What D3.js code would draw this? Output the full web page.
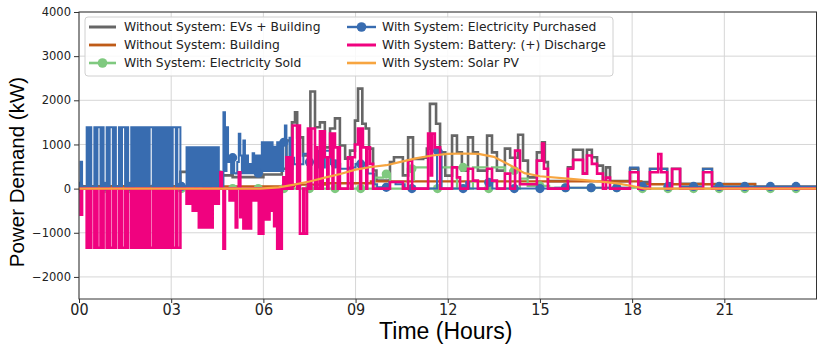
<!DOCTYPE html>
<html>
<head>
<meta charset="utf-8">
<script src="https://cdnjs.cloudflare.com/ajax/libs/d3/7.8.5/d3.min.js"></script>
<style>
    body { margin: 0; background: #fff; }
    svg { display: block; font-family: "DejaVu Sans", sans-serif; }
    .grid line { stroke: #d6d6d6; stroke-width: 1; }
    .axis path { display: none; }
    .axis line { stroke: #333; }
    .axis text { fill: #222; }
</style>
</head>
<body>
<script>
// tick labels
var xTicks = [0, 3, 6, 9, 12, 15, 18, 21];
var yTicks = [-2000, -1000, 0, 1000, 2000, 3000, 4000];

// [hour, kW] step data
var evBuilding = [[0,50],[3.3,380],[3.78,40],[3.85,380],[4.6,300],[5.0,260],[6.0,320],[6.6,450],[6.75,1090],[6.93,1500],[7.03,1730],[7.1,1160],[7.29,750],
    [7.53,2200],[7.68,1390],[7.84,1500],[8.0,935],[8.17,1360],[8.33,1590],[8.49,975],[8.66,680],[8.82,860],[8.98,1540],[9.08,2265],
    [9.22,1470],[9.33,1360],[9.44,905],[9.57,410],[9.68,180],[10.12,600],[10.25,710],[10.54,300],[10.71,1160],[10.87,670],[11.2,700],
    [11.32,905],[11.42,1920],[11.62,1470],[11.75,820],[11.92,295],[12.14,1200],[12.3,820],[12.46,408],[12.66,1160],[12.82,820],
    [12.98,408],[13.28,1200],[13.44,820],[13.6,408],[13.86,905],[14.03,700],[14.29,1220],[14.45,634],[14.61,255],[14.9,820],
    [15.07,1050],[15.16,600],[15.26,170],[15.91,480],[16.08,880],[16.4,340],[16.53,880],[16.69,710],[16.86,520],[17.05,170],
    [17.15,480],[17.28,170],[17.93,450],[18.2,150],[18.58,450],[19.14,120],[19.3,450],[19.56,110],[20.31,450],[20.6,105],[22.0,40],[24,40]];

var building = [[0,50],[6,50],[7,90],[8,120],[9.5,165],[18.3,100],[22,40],[24,40]];

var sold = [[0,0],[9.62,250],[9.9,330],[10.12,0],[10.7,450],[10.84,200],[10.9,480],[11.36,0],[11.75,480],[12.14,0],[12.3,480],[12.66,0],
    [12.82,480],[13.28,0],[13.44,480],[13.86,0],[14.03,410],[14.19,0],[14.35,225],[14.6,60],[15.3,20],[18.2,0],[24,0]];

// fast switching between 00:15 and 07:00, one value every 3 minutes
var fastStart = 0.25, fastStep = 0.05;
var fastPurchased = [
    1390,50,1390,50,50,1390,50,1390,1390,50,
    1390,50,50,1390,50,1390,1390,50,1390,50,
    50,1390,50,1390,1390,50,1390,50,50,1390,
    50,1390,50,1390,50,1390,50,1390,50,1390,
    50,1390,1390,50,1390,50,1390,50,1390,50,
    1390,50,1390,50,1390,50,1390,1390,50,1390,
    1390,50,50,50,50,
    935,50,935,50,935,50,935,50,935,50,935,50,935,50,935,50,935,50,935,50,935,50,
    50,50,1730,400,1390,600,700,350,700,350,
    340,600,1240,750,350,1090,350,750,350,560,
    350,800,350,750,350,750,350,1050,400,1050,
    400,1050,400,1050,400,950,400,1050,400,1050,
    400,1050,1430,600,450,1150,450,700];
var fastDischarge = [
    -1340,0,-1340,0,0,-1340,0,-1340,-1340,0,
    -1340,0,0,-1340,0,-1340,-1340,0,-1340,0,
    0,-1340,0,-1340,-1340,0,-1340,0,0,-1340,
    0,-1340,0,-1340,0,-1340,0,-1340,0,-1340,
    0,-1340,-1340,0,-1340,0,-1340,0,-1340,0,
    -1340,0,-1340,0,-1340,0,-1340,-1340,0,-1340,
    -1340,0,0,0,0,
    -340,0,-340,0,-500,0,-500,0,-877,0,-877,0,-877,0,-877,0,-877,0,-340,0,-340,0,
    370,0,-1360,0,0,0,-270,0,-270,0,
    -877,0,370,-650,0,-900,0,-900,0,-900,
    0,-270,0,-270,0,-1020,0,-1020,0,-700,
    0,-700,0,-500,0,-850,0,-1360,0,-1360,
    0,255,0,710,0,710,0,1430];

var purchased = [[0,50],[0.05,610],[0.1,50],
    [7.0,550],[7.3,790],[7.5,600],[7.7,850],[7.8,480],[8.0,860],[8.2,560],[8.5,450],[8.8,480],[9.0,560],[9.25,480],[9.4,340],[9.6,100],[9.7,30],
    [10.1,150],[10.3,100],[10.6,0],[11.65,860],[11.8,0],[12.6,150],[12.7,0],[13.3,140],[13.45,0],[15.5,20],[17.93,480],[18.2,50],
    [18.58,445],[19.14,50],[19.3,445],[19.56,50],[20.31,445],[20.6,50],[24,50]];

var discharge = [[0,0],[0.05,-590],[0.1,0],
    [7.0,1430],[7.1,0],[7.15,1430],[7.19,-1020],[7.3,0],[7.33,-1020],[7.42,0],[7.45,1360],[7.52,0],[7.56,1360],[7.68,0],[7.7,935],
    [7.75,0],[7.84,1300],[7.9,0],[7.93,1300],[8.0,710],[8.08,0],[8.12,710],[8.17,1245],[8.25,0],[8.28,1245],[8.33,935],[8.42,0],
    [8.45,935],[8.49,0],[8.75,710],[8.85,0],[8.9,710],[8.98,1000],[9.08,1360],[9.15,0],[9.18,1360],[9.24,935],[9.35,0],[9.38,935],
    [9.47,560],[9.57,0],
    [10.12,150],[10.54,0],[10.71,634],[10.84,0],[11.36,1245],[11.45,300],[11.49,1245],[11.58,935],[11.75,0],[12.14,480],[12.3,255],[12.4,0],[12.66,450],
    [12.82,180],[12.98,0],[13.28,450],[13.44,180],[13.6,0],[13.86,340],[14.03,0],[14.19,860],[14.35,100],[14.9,634],[15.07,1020],
    [15.13,450],[15.26,0],[15.91,450],[16.08,650],[16.4,340],[16.53,750],[16.69,560],[16.86,340],[17.05,0],[17.15,250],[17.28,0],
    [17.93,370],[18.2,0],[18.58,370],[18.85,785],[18.95,370],[19.14,0],[19.3,445],[19.56,0],[20.31,370],[20.6,0],[24,0]];

var solar = [[0,0],[5.9,0],[6.5,30],[7,90],[7.5,160],[8,250],[8.5,330],[9,430],[9.5,490],[10,530],[10.5,610],[11,690],[11.5,750],
    [12,785],[12.5,795],[13,785],[13.5,720],[14,540],[14.5,350],[15,280],[16,220],[17,160],[17.5,120],[18,60],[18.4,0],[24,0]];

function withFast(points, values) {
    var out = points.slice();
    values.forEach(function (v, i) { out.push([fastStart + i * fastStep, v]); });
    return out.sort(function (a, b) { return a[0] - b[0]; });
}

var series = [
    { name: "Without System: EVs + Building", data: evBuilding, color: "#666666", width: 2.6, step: true },
    { name: "Without System: Building", data: building, color: "#bf5b17", width: 2.4, step: true },
    { name: "With System: Electricity Sold", data: sold, color: "#7fc97f", width: 2.2, step: true, marker: true },
    { name: "With System: Electricity Purchased", data: withFast(purchased, fastPurchased), color: "#386cb0", width: 2, step: true, marker: true },
    { name: "With System: Battery: (+) Discharge", data: withFast(discharge, fastDischarge), color: "#f0027f", width: 2.6, step: true },
    { name: "With System: Solar PV", data: solar, color: "#f7a540", width: 2.2, step: false }
];

var W = 825, H = 348;
var plotL = 79, plotR = 816.5, plotT = 12, plotB = 299;

var x = d3.scaleLinear().domain([0, 24]).range([plotL, plotR]);
var y = d3.scaleLinear().domain([-2500, 4000]).range([plotB, plotT]);

var svg = d3.select("body").append("svg").attr("width", W).attr("height", H);

svg.append("clipPath").attr("id", "plot")
    .append("rect").attr("x", plotL).attr("y", plotT).attr("width", plotR - plotL).attr("height", plotB - plotT);

var grid = svg.append("g").attr("class", "grid");
grid.selectAll(".gx").data(xTicks).enter().append("line")
    .attr("x1", d => x(d)).attr("x2", d => x(d)).attr("y1", plotT).attr("y2", plotB);
grid.selectAll(".gy").data(yTicks).enter().append("line")
    .attr("x1", plotL).attr("x2", plotR).attr("y1", d => y(d)).attr("y2", d => y(d));

var plot = svg.append("g").attr("clip-path", "url(#plot)");

// every 50 minutes, like matplotlib markevery
var markTimes = d3.range(0, 24, 50 / 60);
var bis = d3.bisector(d => d[0]).right;
function valueAt(points, t) {
    var i = bis(points, t + 1e-9) - 1;
    return points[Math.max(i, 0)][1];
}

series.forEach(function (s) {
    var line = d3.line().x(d => x(d[0])).y(d => y(d[1]))
        .curve(s.step ? d3.curveStepAfter : d3.curveLinear);
    plot.append("path").datum(s.data)
        .attr("fill", "none").attr("stroke", s.color).attr("stroke-width", s.width)
        .attr("stroke-linejoin", "miter").attr("d", line);
    if (s.marker) {
        plot.selectAll(null).data(markTimes).enter().append("circle")
            .attr("cx", d => x(d)).attr("cy", d => y(valueAt(s.data, d)))
            .attr("r", 4.6).attr("fill", s.color);
    }
});

svg.append("rect").attr("x", plotL).attr("y", plotT).attr("width", plotR - plotL).attr("height", plotB - plotT)
    .attr("fill", "none").attr("stroke", "#333").attr("stroke-width", 1);

// axes
var yAxis = svg.append("g").attr("class", "axis").attr("transform", "translate(" + plotL + ",0)")
    .call(d3.axisLeft(y).tickValues(yTicks).tickSize(5).tickPadding(3)
        .tickFormat(d => d < 0 ? "\u2212" + Math.abs(d) : d));
yAxis.selectAll("text").style("font-size", "11.5px").style("font-family", "DejaVu Sans");

var xAxis = svg.append("g").attr("class", "axis").attr("transform", "translate(0," + plotB + ")")
    .call(d3.axisBottom(x).tickValues(xTicks).tickSize(4).tickPadding(1).tickFormat(d3.format("02d")));
xAxis.selectAll("text").style("font-size", "16px")
    .style("font-family", "'Liberation Sans Narrow', 'DejaVu Sans Condensed', sans-serif");

svg.append("text").attr("x", (plotL + plotR) / 2 - 2).attr("y", 339)
    .attr("text-anchor", "middle").style("font-size", "23px")
    .style("font-family", "'Liberation Sans', sans-serif").text("Time (Hours)");

svg.append("text").attr("transform", "translate(24,172) rotate(-90)")
    .attr("text-anchor", "middle").style("font-size", "20.5px")
    .style("font-family", "'Liberation Sans', sans-serif").text("Power Demand (kW)");

// legend
var legend = svg.append("g");
legend.append("rect").attr("x", 85).attr("y", 17).attr("width", 528).attr("height", 59).attr("rx", 3)
    .attr("fill", "#fff").attr("fill-opacity", 0.85).attr("stroke", "#d0d0d0");
var cols = [{ x0: 89, x1: 116, tx: 124 }, { x0: 347, x1: 376, tx: 382 }];
series.forEach(function (s, i) {
    var c = cols[Math.floor(i / 3)], ly = 27 + (i % 3) * 18;
    legend.append("line").attr("x1", c.x0).attr("x2", c.x1).attr("y1", ly).attr("y2", ly)
        .attr("stroke", s.color).attr("stroke-width", s.width + 0.4);
    if (s.marker) legend.append("circle").attr("cx", (c.x0 + c.x1) / 2).attr("cy", ly).attr("r", 4.8).attr("fill", s.color);
    legend.append("text").attr("x", c.tx).attr("y", ly).attr("dy", "0.35em")
        .style("font-size", "12.3px").style("fill", "#222").text(s.name);
});
</script>
</body>
</html>
